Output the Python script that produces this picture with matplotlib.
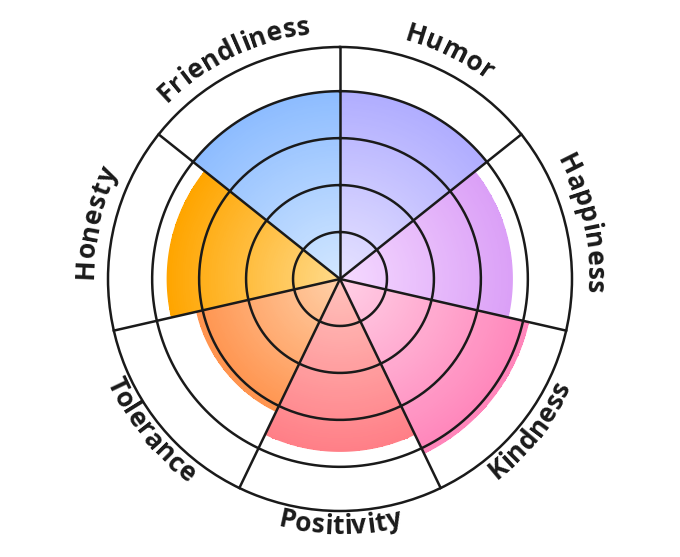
import numpy as np
import matplotlib
matplotlib.use("Agg")
import matplotlib.pyplot as plt
from matplotlib.colors import LinearSegmentedColormap
from matplotlib.font_manager import FontProperties, findfont, get_font

# data (clockwise from the top)
traits = ['Humor', 'Happiness', 'Kindness', 'Positivity', 'Tolerance', 'Honesty', 'Friendliness']
scores = [4.0, 3.67, 4.12, 3.67, 3.13, 3.68, 4.0]
inner_colors = ['#E6E2FF', '#F5DAFF', '#FFD0E6', '#FFC2BC', '#FFD0A8', '#FFDA8A', '#D2E7FF']
outer_colors = ['#B0ADFF', '#DBA0F7', '#FF85BA', '#FF7F87', '#FF944F', '#FFA500', '#8DBCFF']

R_OUT = 4.94
PX_PER_UNIT = 232 / R_OUT
DPI = 100
line_col = '#1a1a1a'

fig = plt.figure(figsize=(6.8, 5.57), dpi=DPI)
ax = fig.add_axes([0.1588, 0.0826, 0.6824, 0.833], projection='polar')
ax.set_theta_zero_location('N')
ax.set_theta_direction(-1)
ax.set_ylim(0, R_OUT)
ax.grid(False)
ax.set_xticks([])
ax.set_yticks([])
ax.spines['polar'].set_color(line_col)
ax.spines['polar'].set_linewidth(1.8)

n = len(traits)
step = 2 * np.pi / n

# gradient sectors
for i, (v, c0, c1) in enumerate(zip(scores, inner_colors, outer_colors)):
    t0, t1 = i * step, (i + 1) * step
    th = np.linspace(t0, t1, 60)
    rr = np.linspace(0, v, 80)
    T, R = np.meshgrid(th, rr)
    C = (0.5 * (rr[:-1] + rr[1:]))[:, None] * np.ones((1, len(th) - 1))
    cmap = LinearSegmentedColormap.from_list('g%d' % i, [c0, c1])
    ax.pcolormesh(T, R, C, cmap=cmap, vmin=0, vmax=v, shading='flat', zorder=1)
    ax.plot(th, [v] * len(th), color=c1, lw=0.8, zorder=1.5)

# rings and spokes
circ = np.linspace(0, 2 * np.pi, 400)
for k in range(1, 5):
    ax.plot(circ, [k] * len(circ), color=line_col, lw=1.8, zorder=3)
for i in range(n):
    ax.plot([i * step, i * step], [0, R_OUT], color=line_col, lw=1.8, zorder=3, clip_on=False)

# curved labels
fs = 19
fp = FontProperties(family='Open Sans', weight='bold', size=fs)
font = get_font(findfont(fp))
font.set_size(fs, DPI)
spacing = 0.3

def advances(s):
    out = []
    for ch in s:
        g = font.load_char(ord(ch))
        out.append(g.linearHoriAdvance / 65536)
    return out

for i, name in enumerate(traits):
    mid = (i + 0.5) * step
    mid_deg = np.degrees(mid)
    top = mid_deg < 90 or mid_deg > 270
    r_px = 247 if top else 255
    r = r_px / PX_PER_UNIT
    adv = advances(name)
    W = sum(adv) + spacing * (len(adv) - 1)
    x = 0.0
    for ch, a in zip(name, adv):
        cx = x + a / 2 - W / 2
        if top:
            phi = mid + cx / r_px
            rot = -np.degrees(phi)
        else:
            phi = mid - cx / r_px
            rot = 180 - np.degrees(phi)
        ax.text(phi, r, ch, fontproperties=fp, color=line_col, rotation=rot,
                rotation_mode='anchor', ha='center', va='baseline', clip_on=False)
        x += a + spacing

fig.savefig('out.png', dpi=DPI)
